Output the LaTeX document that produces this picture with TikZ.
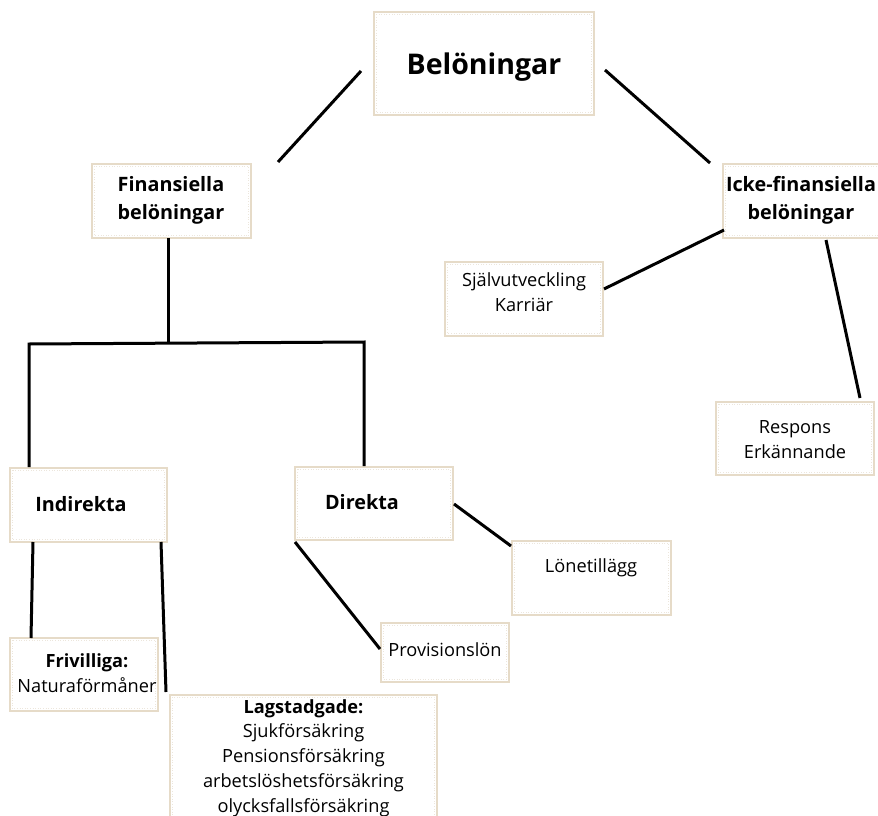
\documentclass[tikz,border=0pt]{standalone}
\usepackage{fontspec}
\setmainfont{Open Sans}
\usetikzlibrary{calc}
\definecolor{boxedge}{RGB}{230,219,200}
\definecolor{boxinner}{RGB}{236,230,220}
\tikzset{
  box/.style={draw=boxedge, line width=1.2pt, fill=white, minimum width=#1, inner sep=0pt},
  txt/.style={align=center, inner sep=0pt, font=\fontsize{18.2}{24.8}\selectfont},
  btxt/.style={align=center, inner sep=0pt, font=\fontsize{19.8}{28}\selectfont\bfseries},
  conn/.style={line width=3pt, black},
  innerline/.style={draw=boxinner, line width=0.6pt, dotted}
}
\newcommand{\innerbox}[1]{\draw[innerline] ($(#1.north west)+(3pt,-3pt)$) rectangle ($(#1.south east)+(-3pt,3pt)$);}
\begin{document}
\begin{tikzpicture}[x=1pt,y=-1pt]
\useasboundingbox (0,0) rectangle (878,816);
% boxes
\node[box=220pt, minimum height=103pt] (bel) at (484,63.5) {};
\node[box=159pt, minimum height=74pt] (fin) at (171.5,201) {};
\node[box=158pt, minimum height=74pt] (icke) at (802,201) {};
\node[box=158pt, minimum height=74pt] (sjalv) at (524,299) {};
\node[box=158pt, minimum height=73pt] (resp) at (795,438.5) {};
\node[box=157pt, minimum height=74pt] (ind) at (88.5,505) {};
\node[box=158pt, minimum height=73pt] (dir) at (374,503.5) {};
\node[box=159pt, minimum height=74pt] (lone) at (591.5,578) {};
\node[box=128pt, minimum height=59pt] (prov) at (445,652.5) {};
\node[box=148pt, minimum height=73pt] (friv) at (84,674.5) {};
\node[box=267pt, minimum height=135pt] (lag) at (303.5,762.5) {};
\foreach \n in {bel,fin,icke,sjalv,resp,ind,dir,lone,prov,friv,lag}{\innerbox{\n}}
% texts
\node[btxt, font=\fontsize{28.5}{34}\selectfont\bfseries] (tbel) at (484,67) {Belöningar};
\node[btxt] (tfin) at (171,200) {Finansiella\\belöningar};
\node[btxt] (ticke) at (801,200) {Icke-finansiella\\belöningar};
\node[txt] (tsjalv) at (524,292) {Självutveckling\\Karriär};
\node[txt] (tresp) at (795,439.5) {Respons\\Erkännande};
\node[btxt] (tind) at (81,504) {Indirekta};
\node[btxt] (tdir) at (362,502) {Direkta};
\node[txt] (tlone) at (591,568) {Lönetillägg};
\node[txt] (tprov) at (445,650) {Provisionslön};
\node[txt] (tfriv) at (87,673.5) {\textbf{Frivilliga:}\\Naturaförmåner};
\node[txt] (tlag) at (303.5,758) {\textbf{Lagstadgade:}\\Sjukförsäkring\\Pensionsförsäkring\\arbetslöshetsförsäkring\\olycksfallsförsäkring};
% connector end points
\coordinate (c1) at (361,71);  \coordinate (c2) at (278,162);
\coordinate (c3) at (605,70);  \coordinate (c4) at (710,163);
\coordinate (c5) at (168,238); \coordinate (c6) at (168,343);
\coordinate (c7) at (29,344);  \coordinate (c8) at (364,342);
\coordinate (c9) at (29,467);  \coordinate (c10) at (364,466);
\coordinate (c11) at (724,230); \coordinate (c12) at (604,289);
\coordinate (c13) at (826,240); \coordinate (c14) at (860,398);
\coordinate (c15) at (33,542); \coordinate (c16) at (31,638);
\coordinate (c17) at (161,542); \coordinate (c18) at (166,692);
\coordinate (c19) at (295,542); \coordinate (c20) at (380,649);
\coordinate (c21) at (454,504); \coordinate (c22) at (511,546);
\draw[conn] (c1) -- (c2);
\draw[conn] (c3) -- (c4);
\draw[conn] (c5) -- (c6);
\draw[conn] (c9) -- (c7) -- (c8) -- (c10);
\draw[conn] (c11) -- (c12);
\draw[conn] (c13) -- (c14);
\draw[conn] (c15) -- (c16);
\draw[conn] (c17) -- (c18);
\draw[conn] (c19) -- (c20);
\draw[conn] (c21) -- (c22);
\end{tikzpicture}
\end{document}
